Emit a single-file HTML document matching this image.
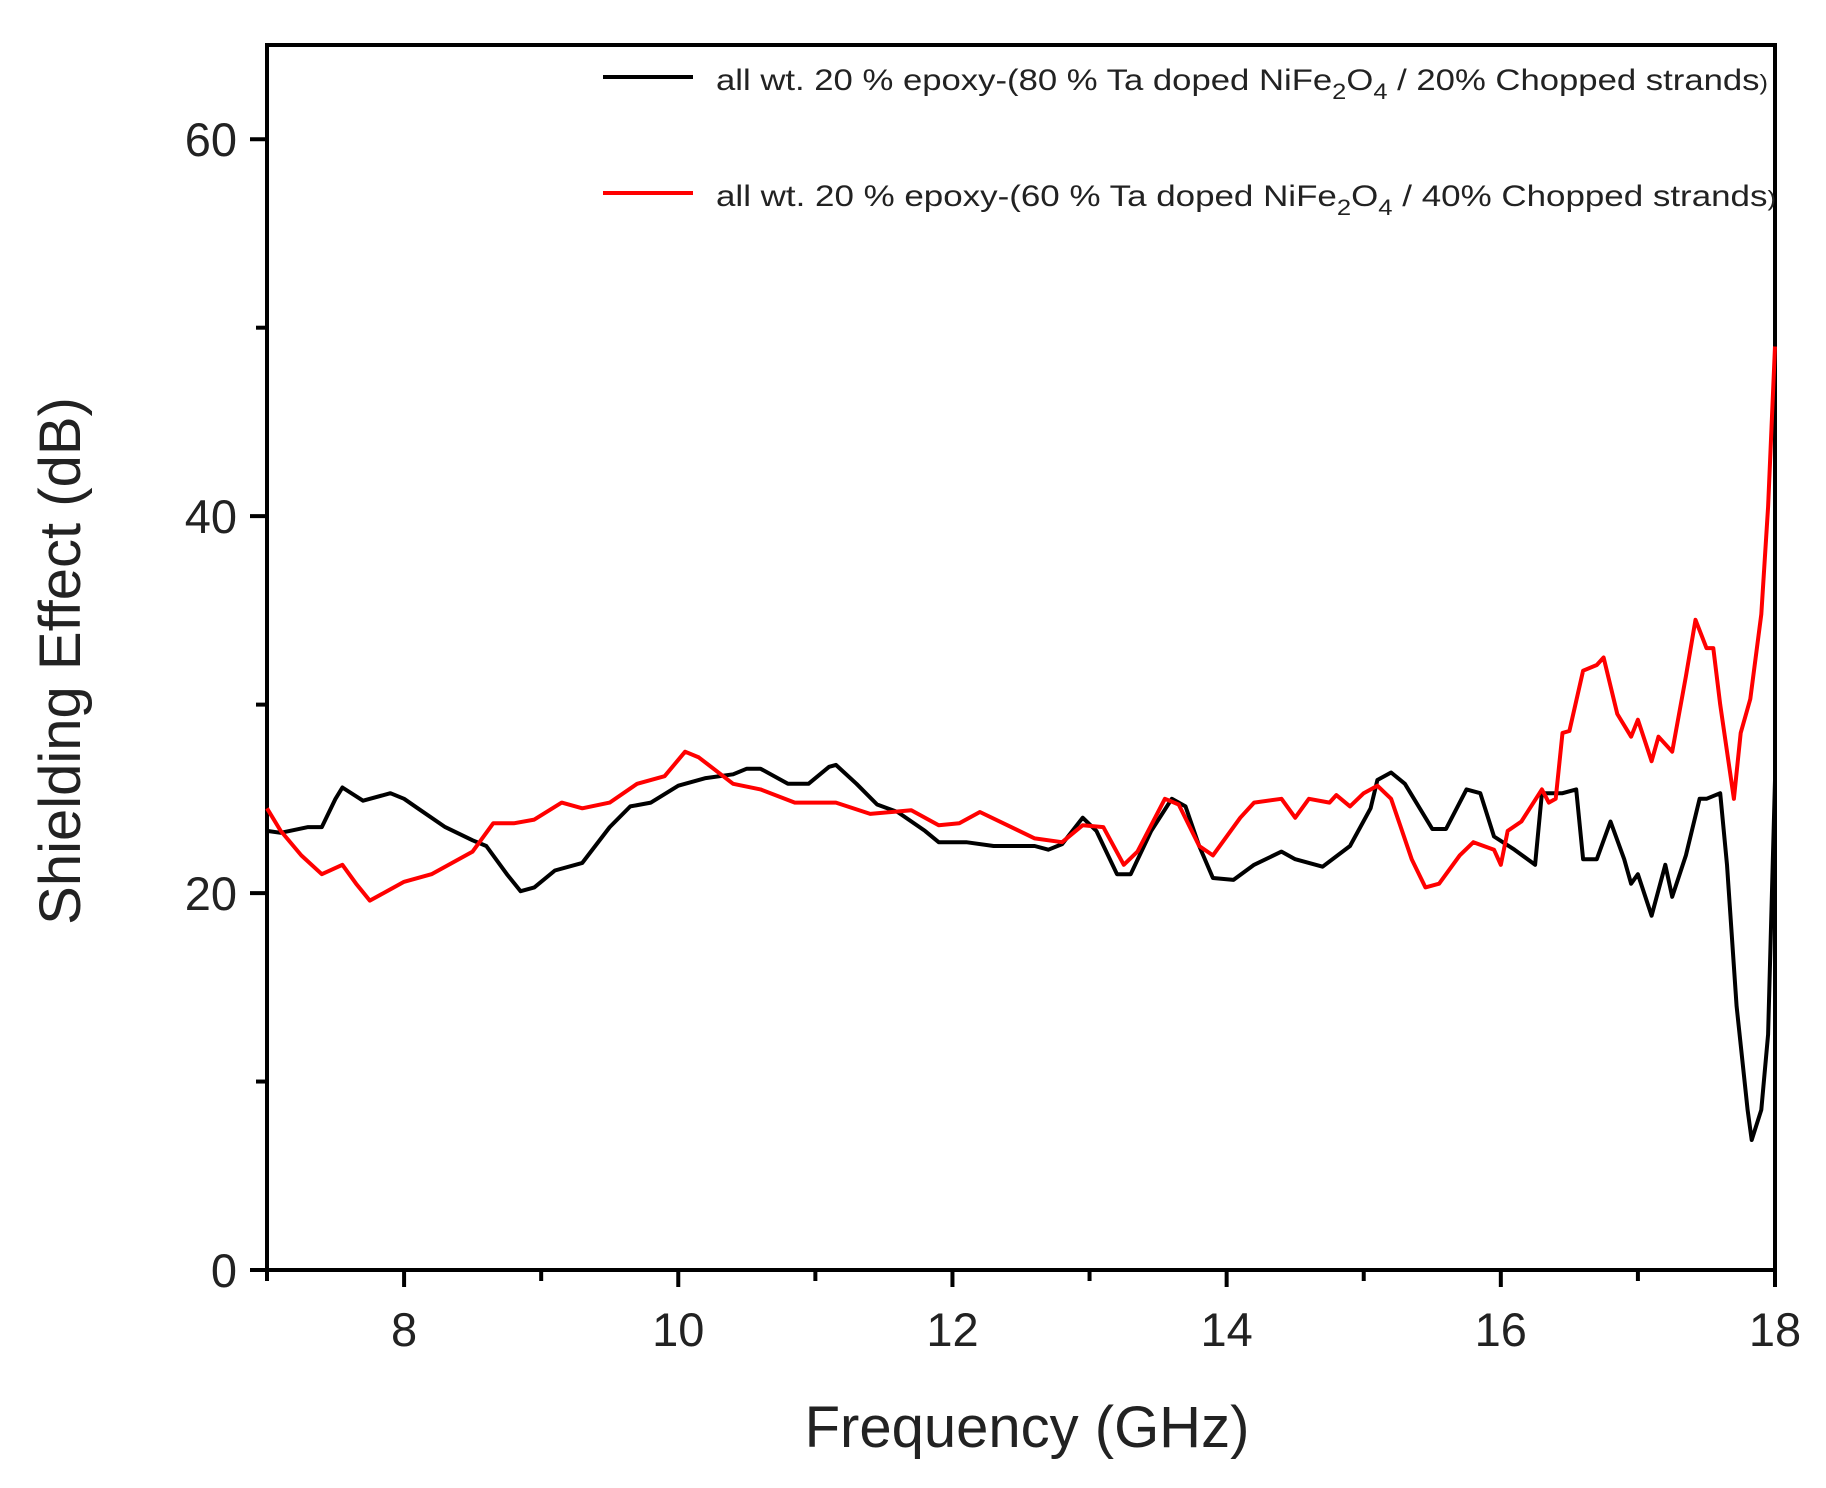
<!DOCTYPE html>
<html><head><meta charset="utf-8"><style>
html,body{margin:0;padding:0;background:#fff;}
svg{display:block;font-family:"Liberation Sans",Arial,sans-serif;}
</style></head><body>
<svg id="chart" width="1826" height="1488" viewBox="0 0 1826 1488">
<g id="axes"></g>
<g id="series"></g>
<g id="legend">
 <line x1="603" y1="77" x2="693" y2="77" stroke="#000" stroke-width="4"/>
 <text x="716" y="90" font-size="30" textLength="1052" lengthAdjust="spacingAndGlyphs" fill="#222">all  wt. 20 %  epoxy-(80 % Ta doped NiFe<tspan font-size="22" dy="9">2</tspan><tspan dy="-9">O</tspan><tspan font-size="22" dy="9">4</tspan><tspan dy="-9"> / 20% Chopped strands</tspan><tspan font-size="22">)</tspan></text>
 <line x1="603" y1="193" x2="693" y2="193" stroke="#f00" stroke-width="4"/>
 <text x="716" y="206" font-size="30" textLength="1060" lengthAdjust="spacingAndGlyphs" fill="#222">all  wt.  20 % epoxy-(60 % Ta doped NiFe<tspan font-size="22" dy="9">2</tspan><tspan dy="-9">O</tspan><tspan font-size="22" dy="9">4</tspan><tspan dy="-9"> / 40% Chopped strands</tspan><tspan font-size="22">)</tspan></text>
</g>
<text x="1027" y="1447" font-size="58" text-anchor="middle" fill="#222">Frequency (GHz)</text>
<text transform="translate(80,661) rotate(-90)" font-size="58" text-anchor="middle" fill="#222">Shielding Effect (dB)</text>
</svg>
<script>
const xTicks = [8, 10, 12, 14, 16, 18];
const xMinor = [7, 9, 11, 13, 15, 17];
const yTicks = [0, 20, 40, 60];
const yMinor = [10, 30, 50];
const blackX = [7.0,7.1,7.3,7.4,7.5,7.55,7.7,7.9,8.0,8.1,8.3,8.5,8.6,8.75,8.85,8.95,9.1,9.3,9.5,9.65,9.8,10.0,10.2,10.4,10.5,10.6,10.8,10.95,11.1,11.15,11.3,11.45,11.6,11.8,11.9,12.1,12.3,12.6,12.7,12.8,12.95,13.05,13.2,13.3,13.45,13.6,13.7,13.8,13.9,14.05,14.2,14.4,14.5,14.7,14.9,15.05,15.1,15.2,15.3,15.5,15.6,15.75,15.85,15.95,16.1,16.25,16.3,16.45,16.55,16.6,16.7,16.8,16.9,16.95,17.0,17.1,17.2,17.25,17.35,17.45,17.5,17.6,17.65,17.72,17.8,17.83,17.9,17.95,18.0];
const blackY = [23.3,23.2,23.5,23.5,25.0,25.6,24.9,25.3,25.0,24.5,23.5,22.8,22.5,21.0,20.1,20.3,21.2,21.6,23.5,24.6,24.8,25.7,26.1,26.3,26.6,26.6,25.8,25.8,26.7,26.8,25.8,24.7,24.3,23.3,22.7,22.7,22.5,22.5,22.3,22.6,24.0,23.3,21.0,21.0,23.3,25.0,24.6,22.5,20.8,20.7,21.5,22.2,21.8,21.4,22.5,24.5,26.0,26.4,25.8,23.4,23.4,25.5,25.3,23.0,22.3,21.5,25.3,25.3,25.5,21.8,21.8,23.8,21.8,20.5,21.0,18.8,21.5,19.8,22.0,25.0,25.0,25.3,21.5,14.0,8.5,6.9,8.5,12.5,26.0];
const redX = [7.0,7.1,7.25,7.4,7.55,7.65,7.75,7.85,8.0,8.2,8.5,8.65,8.8,8.95,9.15,9.3,9.5,9.7,9.9,10.05,10.15,10.4,10.6,10.85,11.15,11.4,11.7,11.9,12.05,12.2,12.4,12.6,12.8,12.95,13.1,13.25,13.35,13.55,13.65,13.8,13.9,14.1,14.2,14.4,14.5,14.6,14.75,14.8,14.9,15.0,15.1,15.2,15.35,15.45,15.55,15.7,15.8,15.95,16.0,16.05,16.15,16.3,16.35,16.4,16.45,16.5,16.6,16.7,16.75,16.85,16.95,17.0,17.1,17.15,17.25,17.35,17.42,17.5,17.55,17.6,17.7,17.75,17.82,17.9,17.95,18.0];
const redY = [24.5,23.3,22.0,21.0,21.5,20.5,19.6,20.0,20.6,21.0,22.2,23.7,23.7,23.9,24.8,24.5,24.8,25.8,26.2,27.5,27.2,25.8,25.5,24.8,24.8,24.2,24.4,23.6,23.7,24.3,23.6,22.9,22.7,23.6,23.5,21.5,22.2,25.0,24.7,22.5,22.0,24.0,24.8,25.0,24.0,25.0,24.8,25.2,24.6,25.3,25.7,25.0,21.8,20.3,20.5,22.0,22.7,22.3,21.5,23.3,23.8,25.5,24.8,25.0,28.5,28.6,31.8,32.1,32.5,29.5,28.3,29.2,27.0,28.3,27.5,31.5,34.5,33.0,33.0,30.0,25.0,28.5,30.3,34.8,40.5,49.0];

const X0=267, X1=1775, Y0=1270, Y1=45, XMIN=7, XMAX=18, YMIN=0, YMAX=65;
const sx = v => X0 + (v-XMIN)/(XMAX-XMIN)*(X1-X0);
const sy = v => Y0 - (v-YMIN)/(YMAX-YMIN)*(Y0-Y1);
const NS='http://www.w3.org/2000/svg';
const axes=document.getElementById('axes'), series=document.getElementById('series');
function mk(tag, attrs, parent){const e=document.createElementNS(NS,tag);for(const k in attrs)e.setAttribute(k,attrs[k]);parent.appendChild(e);return e;}

const frame = mk('rect',{x:X0,y:Y1,width:X1-X0,height:Y0-Y1,fill:'none',stroke:'#000','stroke-width':4},axes);



xTicks.forEach(v=>{
  const t=mk('line',{x1:sx(v),x2:sx(v),y1:Y0,y2:Y0+17,stroke:'#000','stroke-width':4},axes);
  
  
  const l=mk('text',{x:sx(v),y:Y0+76,'font-size':47,'text-anchor':'middle',fill:'#222'},axes);
  l.textContent=v;
  
  
});
xMinor.forEach(v=>{
  const t=mk('line',{x1:sx(v),x2:sx(v),y1:Y0,y2:Y0+11,stroke:'#000','stroke-width':4},axes);
  
  
});
yTicks.forEach(v=>{
  const t=mk('line',{x1:X0-17,x2:X0,y1:sy(v),y2:sy(v),stroke:'#000','stroke-width':4},axes);
  
  
  const l=mk('text',{x:X0-30,y:sy(v)+17,'font-size':47,'text-anchor':'end',fill:'#222'},axes);
  l.textContent=v;
  
  
});
yMinor.forEach(v=>{
  const t=mk('line',{x1:X0-11,x2:X0,y1:sy(v),y2:sy(v),stroke:'#000','stroke-width':4},axes);
  
  
});
function pathOf(xs,ys){return xs.map((x,i)=>(i?'L':'M')+sx(x).toFixed(1)+' '+sy(ys[i]).toFixed(1)).join(' ');}
const pb=mk('path',{d:pathOf(blackX,blackY),fill:'none',stroke:'#000','stroke-width':4,'stroke-linejoin':'round'},series);


const pr=mk('path',{d:pathOf(redX,redY),fill:'none',stroke:'#f00','stroke-width':4,'stroke-linejoin':'round'},series);


</script>
</body></html>
